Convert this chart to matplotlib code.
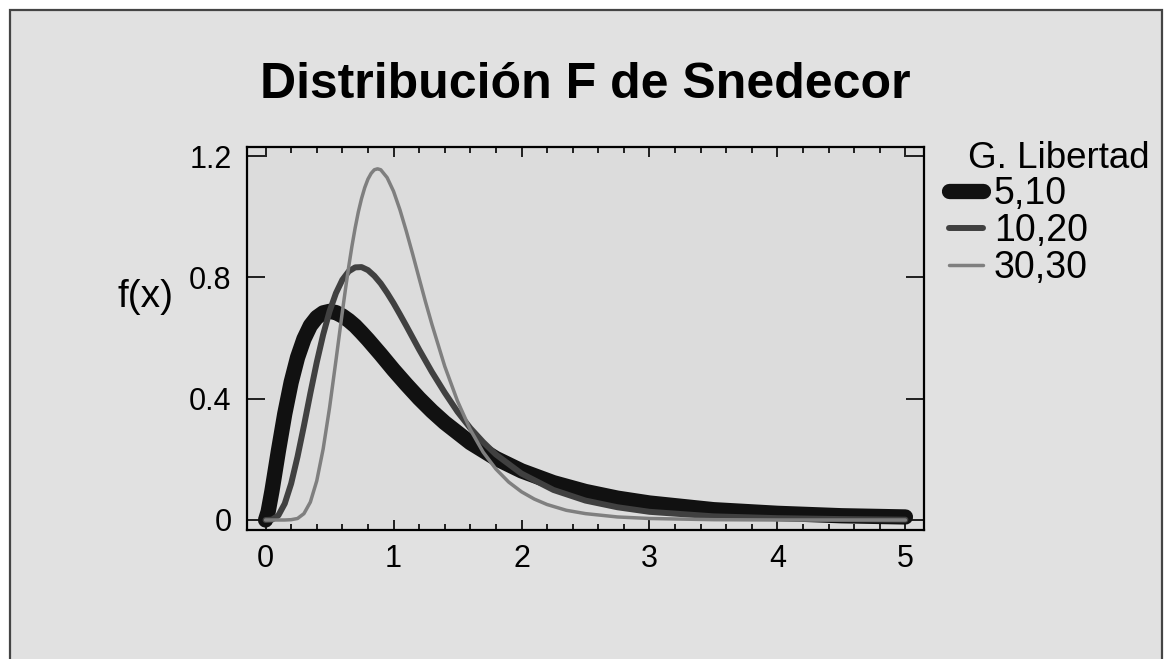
import numpy as np
import matplotlib
matplotlib.use("Agg")
import matplotlib.pyplot as plt
from matplotlib.patches import Rectangle

plt.rcParams['font.family'] = ['Liberation Sans', 'DejaVu Sans']

# valores: f(x) para cada par de grados de libertad
x_5_10 = [0, 0.02, 0.05, 0.07, 0.1, 0.15, 0.2, 0.25, 0.3, 0.35, 0.4, 0.45, 0.5,
          0.55, 0.6, 0.65, 0.7, 0.75, 0.8, 0.9, 1.0, 1.1, 1.2, 1.3, 1.4, 1.6,
          1.8, 2.0, 2.25, 2.5, 2.75, 3.0, 3.5, 4.0, 4.5, 5.0]
y_5_10 = [0, 0.027, 0.096, 0.148, 0.227, 0.350, 0.454, 0.536, 0.597, 0.641, 0.668,
          0.683, 0.688, 0.684, 0.673, 0.658, 0.640, 0.618, 0.595, 0.546, 0.495,
          0.447, 0.401, 0.359, 0.321, 0.255, 0.203, 0.162, 0.123, 0.094, 0.072,
          0.056, 0.034, 0.022, 0.014, 0.010]

x_10_20 = [0, 0.05, 0.1, 0.15, 0.2, 0.25, 0.3, 0.35, 0.4, 0.45, 0.5, 0.55, 0.6, 0.65,
           0.7, 0.75, 0.8, 0.85, 0.9, 0.95, 1.0, 1.05, 1.1, 1.2, 1.3, 1.4, 1.5,
           1.6, 1.7, 1.8, 2.0, 2.25, 2.5, 2.75, 3.0, 3.5, 4.0, 4.5, 5.0]
y_10_20 = [0, 0.001, 0.015, 0.054, 0.120, 0.209, 0.311, 0.418, 0.520, 0.611, 0.688,
           0.748, 0.792, 0.820, 0.833, 0.834, 0.824, 0.805, 0.780, 0.749, 0.715,
           0.678, 0.640, 0.562, 0.488, 0.420, 0.357, 0.303, 0.257, 0.216, 0.153,
           0.099, 0.064, 0.042, 0.027, 0.012, 0.006, 0.003, 0.001]

x_30_30 = [0, 0.1, 0.15, 0.2, 0.25, 0.3, 0.35, 0.4, 0.45, 0.5, 0.55, 0.6, 0.625,
           0.65, 0.675, 0.7, 0.725, 0.75, 0.775, 0.8, 0.825, 0.85, 0.875, 0.9,
           0.95, 1.0, 1.05, 1.1, 1.15, 1.2, 1.25, 1.3, 1.4, 1.5, 1.6, 1.7, 1.8,
           1.9, 2.0, 2.1, 2.2, 2.35, 2.5, 2.75, 3.0, 3.5, 4.0, 5.0]
y_30_30 = [0, 0.0, 0.0, 0.001, 0.005, 0.021, 0.059, 0.129, 0.234, 0.370, 0.526,
           0.686, 0.763, 0.836, 0.903, 0.963, 1.016, 1.060, 1.096, 1.124, 1.143,
           1.155, 1.158, 1.155, 1.129, 1.084, 1.023, 0.952, 0.876, 0.797, 0.719,
           0.645, 0.507, 0.392, 0.298, 0.224, 0.168, 0.125, 0.093, 0.069, 0.051,
           0.032, 0.021, 0.010, 0.005, 0.001, 0.0, 0.0]

etiquetas = ["5,10", "10,20", "30,30"]
colores = ["#111111", "#404040", "#7f7f7f"]
grosores = [11, 4.3, 2.5]

W, H = 1165, 659
fig = plt.figure(figsize=(W / 100, H / 100), dpi=100)
fig.patch.set_facecolor("white")
# marco gris del grafico
fig.patches.append(Rectangle((10 / W, -0.05), (1162 - 10) / W, 1.05 - 10 / H,
                             transform=fig.transFigure, facecolor="#e1e1e1",
                             edgecolor="#444444", linewidth=1.6, zorder=-5))

ax = fig.add_axes([247 / W, (H - 530) / H, (924 - 247) / W, (530 - 147) / H])
ax.set_facecolor("#dcdcdc")

series = [(x_5_10, y_5_10), (x_10_20, y_10_20), (x_30_30, y_30_30)]
for (xs, ys), lab, c, lw in zip(series, etiquetas, colores, grosores):
    ax.plot(xs, ys, color=c, lw=lw, label=lab, solid_capstyle="round",
            solid_joinstyle="round")

ax.set_xlim(-0.145, 5.145)
ax.set_ylim(-0.033, 1.23)
ax.set_xticks([0, 1, 2, 3, 4, 5])
ax.set_xticks(np.arange(0, 5.01, 0.2), minor=True)
ax.set_yticks([0, 0.4, 0.8, 1.2])
ax.set_yticklabels(["0", "0.4", "0.8", "1.2"])
ax.tick_params(axis="both", which="both", direction="in", top=True, right=True,
               width=1.2, colors="black", labelsize=22)
ax.tick_params(axis="x", which="major", length=7, pad=10)
ax.tick_params(axis="x", which="minor", length=4)
ax.tick_params(axis="y", which="major", length=13, pad=11)
for s in ax.spines.values():
    s.set_linewidth(1.6)

fig.text(585 / W, 1 - 98 / H, "Distribución F de Snedecor", fontsize=36,
         fontweight="bold", ha="center", va="baseline")
fig.text(145 / W, 1 - 297 / H, "f(x)", fontsize=28, ha="center", va="center")

fig.text(968 / W, 1 - 168 / H, "G. Libertad", fontsize=26.5, ha="left",
         va="baseline")
leg = ax.legend(loc="upper left", bbox_to_anchor=(949 / W, 1 - 176 / H),
                bbox_transform=fig.transFigure, frameon=False, fontsize=27,
                handlelength=0.9, handletextpad=0.3, labelspacing=0.03,
                borderpad=0, borderaxespad=0)

fig.savefig("out.png", dpi=100)
